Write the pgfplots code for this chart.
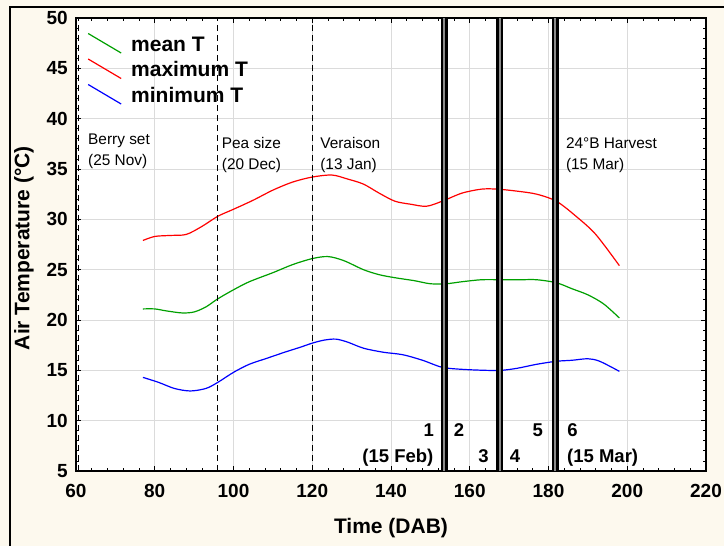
\documentclass[border=0pt]{standalone}
\usepackage{pgfplots}
\pgfplotsset{compat=1.18}
\usepackage{fontspec}
\setmainfont{Liberation Sans}
\definecolor{bgcream}{RGB}{253,249,238}
\definecolor{mgreen}{RGB}{0,160,0}
\begin{document}
\begin{tikzpicture}[x=1pt,y=1pt]
\fill[bgcream] (0,0) rectangle (724,546);
\useasboundingbox (0,0) rectangle (724,546);
\draw[line width=2pt] (10,-5) -- (10,539) -- (730,539);
\begin{axis}[
  at={(76pt,75pt)}, anchor=south west,
  scale only axis, width=630pt, height=453pt,
  xmin=60, xmax=220, ymin=5, ymax=50,
  xtick={60,80,...,220}, ytick={5,10,...,50},
  minor x tick num=4, minor y tick num=4,
  tick align=inside,
  major tick length=5pt, minor tick length=3pt,
  every tick/.style={black, line width=0.8pt},
  axis line style={line width=1.5pt},
  grid=major, major grid style={draw=black!14, line width=0.8pt},
  axis background/.style={fill=white},
  /pgf/number format/assume math mode=true,
  ticklabel style={font=\fontsize{19}{19}\selectfont\bfseries, inner sep=0pt},
  xticklabel style={yshift=-13.5pt},
  yticklabel style={xshift=-8pt},
  xlabel={Time (DAB)}, ylabel={Air Temperature (°C)},
  every axis x label/.style={at={(axis description cs:0.5,-0.1375)}, anchor=base, inner sep=0pt,
    font=\fontsize{21}{21}\selectfont\bfseries},
  every axis y label/.style={at={(axis description cs:-0.0825,0.492)}, anchor=center, rotate=90, inner sep=0pt,
    font=\fontsize{21}{21}\selectfont\bfseries},
  legend style={at={(axis description cs:0.019,0.9607)}, anchor=north west, draw=none, fill=none, inner sep=0pt,
    font=\fontsize{21}{21}\selectfont\bfseries, row sep=10.5pt, column sep=10pt,
    nodes={inner sep=0pt, text height=15pt, text depth=0pt}},
  legend cell align=left,
  legend image code/.code={\draw[#1,overlay] (0pt,10pt) -- (33pt,-9.5pt); \path[draw=none,fill=none] (0pt,0pt) rectangle (33pt,0pt);},
]
\addplot[mgreen, line width=1.2pt, smooth, tension=0.5] coordinates {
(77,21.1) (80,21.1) (83,20.9) (87,20.7) (90,20.8) (93,21.3) (96,22.1) (100,23.0) (104,23.8)
(110,24.7) (115,25.5) (120,26.1) (124,26.3) (128,25.9) (133,25.0) (137,24.5) (141,24.2)
(146,23.9) (150,23.6) (154,23.6) (158,23.8) (163,24.0) (168,24.0) (173,24.0) (177,24.0)
(182,23.7) (186,23.1) (190,22.5) (194,21.6) (198,20.2)};
\addlegendentry{mean T}
\addplot[red, line width=1.2pt, smooth, tension=0.5] coordinates {
(77,27.9) (80,28.3) (84,28.4) (88,28.5) (92,29.3) (96,30.3) (100,31.0) (105,31.9) (110,32.9)
(115,33.7) (120,34.2) (125,34.4) (129,34.0) (133,33.5) (137,32.6) (141,31.8) (145,31.5)
(149,31.3) (153,31.8) (158,32.6) (163,33.0) (167,33.0) (172,32.8) (177,32.5) (182,31.8)
(187,30.3) (192,28.5) (198,25.4)};
\addlegendentry{maximum T}
\addplot[blue, line width=1.2pt, smooth, tension=0.5] coordinates {
(77,14.3) (81,13.8) (85,13.2) (89,12.95) (93,13.2) (96,13.8) (100,14.8) (104,15.6) (108.5,16.2)
(113,16.8) (117,17.3) (120,17.7) (123,18.0) (126,18.1) (129,17.8) (133,17.2) (138,16.8)
(143,16.55) (148,16.0) (153,15.3) (158,15.1) (164,15.0) (168,15.0) (172,15.2) (177,15.6)
(182,15.9) (186,16.0) (190,16.15) (193,15.9) (198,14.9)};
\addlegendentry{minimum T}
% dashed stage lines
\addplot[forget plot, black, line width=1pt, dash pattern=on 6pt off 4pt] coordinates {(60.7,5) (60.7,50)};
\addplot[forget plot, black, line width=1pt, dash pattern=on 6pt off 4pt] coordinates {(96,5) (96,50)};
\addplot[forget plot, black, line width=1pt, dash pattern=on 6pt off 4pt] coordinates {(120,5) (120,50)};
% thick double lines
\addplot[forget plot, black, line width=7pt] coordinates {(153.5,5) (153.5,50)};
\addplot[forget plot, black!45, line width=1.8pt] coordinates {(153.5,5) (153.5,50)};
\addplot[forget plot, black, line width=7pt] coordinates {(167.6,5) (167.6,50)};
\addplot[forget plot, black!45, line width=1.8pt] coordinates {(167.6,5) (167.6,50)};
\addplot[forget plot, black, line width=7pt] coordinates {(181.7,5) (181.7,50)};
\addplot[forget plot, black!45, line width=1.8pt] coordinates {(181.7,5) (181.7,50)};
% annotations
\begin{scope}[every node/.style={inner sep=0pt, anchor=base west, font=\fontsize{15.4}{15.4}\selectfont}]
\node at (axis cs:63.05,37.48) {Berry set};
\node at (axis cs:63.05,35.35) {(25 Nov)};
\node at (axis cs:97.0,37.05) {Pea size};
\node at (axis cs:97.0,34.95) {(20 Dec)};
\node at (axis cs:122.0,37.05) {Veraison};
\node at (axis cs:122.0,34.95) {(13 Jan)};
\node at (axis cs:184.4,37.05) {24°B Harvest};
\node at (axis cs:184.4,34.95) {(15 Mar)};
\end{scope}
\begin{scope}[every node/.style={inner sep=0pt, anchor=base, font=\fontsize{18.5}{18.5}\selectfont\bfseries}]
\node at (axis cs:149.6,8.38) {1};
\node at (axis cs:157.3,8.38) {2};
\node at (axis cs:177.3,8.38) {5};
\node at (axis cs:186.1,8.38) {6};
\node at (axis cs:163.5,5.86) {3};
\node at (axis cs:171.5,5.86) {4};
\node[anchor=base east] at (axis cs:150.8,5.86) {(15 Feb)};
\node[anchor=base west] at (axis cs:184.7,5.86) {(15 Mar)};
\end{scope}
\end{axis}
\end{tikzpicture}
\end{document}
